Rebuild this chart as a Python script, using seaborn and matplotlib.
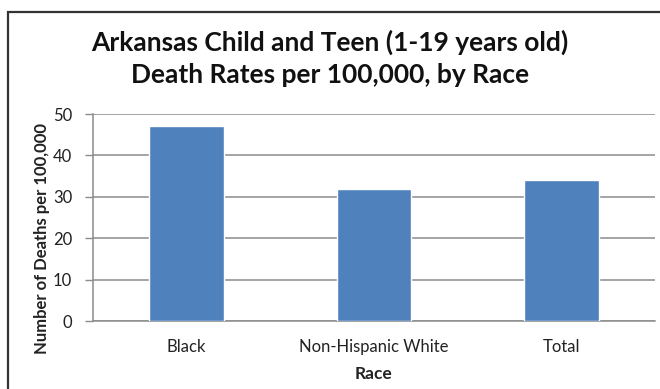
import matplotlib
matplotlib.use("Agg")
import matplotlib.pyplot as plt
from matplotlib.patches import Rectangle
import pandas as pd
import seaborn as sns

categories = ["Black", "Non-Hispanic White", "Total"]
death_rates = [47, 32, 34]
y_ticks = [0, 10, 20, 30, 40, 50]

df = pd.DataFrame({"Race": categories, "Rate": death_rates})

sns.set_style("white")
plt.rcParams["font.family"] = ["Lato", "DejaVu Sans"]

fig = plt.figure(figsize=(6.6, 3.89), dpi=100)
ax = fig.add_axes([93 / 660, 1 - 321 / 389, 562 / 660, 207 / 389])

sns.barplot(data=df, x="Race", y="Rate", color="#4F81BD", width=0.4,
            saturation=1, ax=ax, zorder=3)

ax.set_xlim(-0.5, 2.5)
ax.set_ylim(0, 50)
ax.set_yticks(y_ticks)
ax.set_yticklabels([str(t) for t in y_ticks], fontsize=12, color="#222222")
ax.yaxis.grid(True, color="#8c8c8c", linewidth=1.1, zorder=0)
ax.set_axisbelow(True)

# x ticks at category boundaries, labels centred under bars
ax.set_xticks([-0.5, 0.5, 1.5, 2.5])
ax.set_xticklabels([])
ax.set_xticks([0, 1, 2], minor=True)
ax.set_xticklabels(categories, minor=True, fontsize=12, color="#222222")
ax.tick_params(axis="x", which="major", length=5, color="#8c8c8c", width=1)
ax.tick_params(axis="x", which="minor", length=0, pad=13)
ax.tick_params(axis="y", length=6, color="#8c8c8c", width=1, pad=9, left=True)

for side in ["top", "right"]:
    ax.spines[side].set_visible(False)
for side in ["left", "bottom"]:
    ax.spines[side].set_color("#8c8c8c")
    ax.spines[side].set_linewidth(1.1)

ax.set_xlabel("Race", fontsize=12.5, fontweight="bold", color="#222222",
              va="center")
ax.xaxis.set_label_coords(0.5, -0.256)
ax.set_ylabel("Number of Deaths per 100,000", fontsize=12, fontweight="bold",
              color="#222222", va="center")
ax.yaxis.set_label_coords(-0.091, 0.40)

fig.text(0.5, 1 - 42 / 389, "Arkansas Child and Teen (1-19 years old)",
         ha="center", va="center", fontsize=19, fontweight="bold", color="#111111")
fig.text(0.5, 1 - 75 / 389, "Death Rates per 100,000, by Race",
         ha="center", va="center", fontsize=19, fontweight="bold", color="#111111")

# chart frame
fig.patches.append(Rectangle((8 / 660, -0.1), 1.0, 1 - 12 / 389 + 0.1,
                             transform=fig.transFigure, fill=False,
                             edgecolor="#333333", linewidth=1.6, zorder=10))

fig.savefig("out.png", dpi=100)
